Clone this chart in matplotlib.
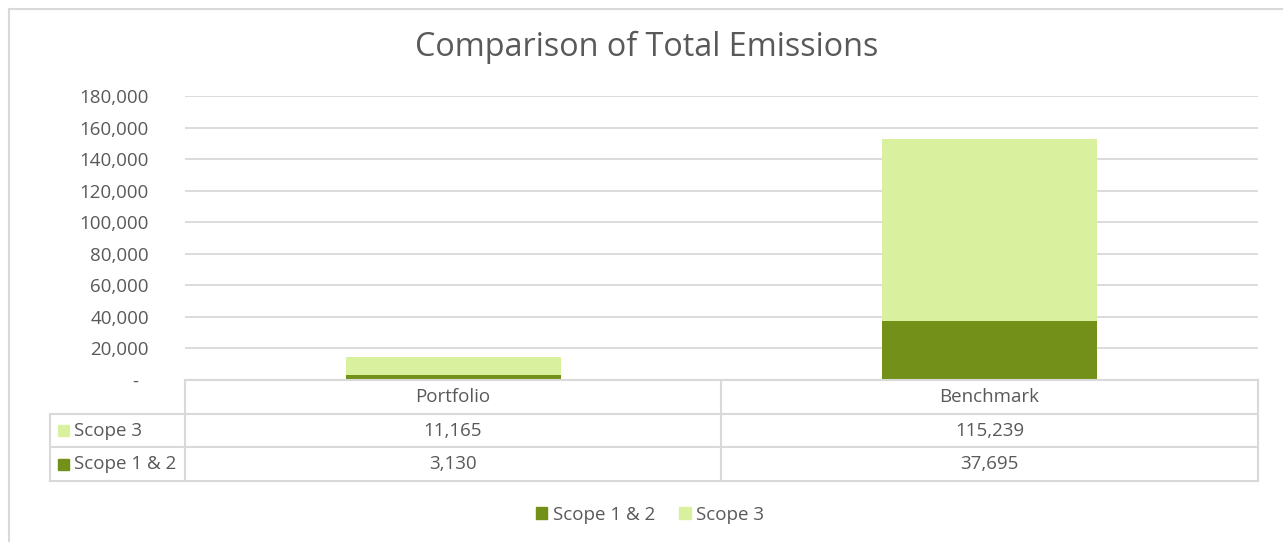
import numpy as np
import matplotlib
matplotlib.use("Agg")
import matplotlib.pyplot as plt
from matplotlib.ticker import FuncFormatter
from matplotlib.patches import Rectangle
from matplotlib.lines import Line2D

# data
categories = ["Portfolio", "Benchmark"]
series_names = ["Scope 1 & 2", "Scope 3"]
scope12 = [3130, 37695]
scope3 = [11165, 115239]
y_ticks = [0, 20000, 40000, 60000, 80000, 100000, 120000, 140000, 160000, 180000]

dark = "#739118"
light = "#D9F09E"
grid = "#D9D9D9"
txt = "#595959"
fs = 13.5

plt.rcParams['font.family'] = ['Open Sans', 'DejaVu Sans']

W, H = 1283, 542
fig = plt.figure(figsize=(W / 100, H / 100), dpi=100)

def box(l, t, r, b):
    # pixel box -> figure fraction
    return [l / W, 1 - b / H, (r - l) / W, (b - t) / H]

# outer chart border (runs off the right and bottom of the picture)
fig.add_artist(Line2D([9 / W, 1], [1 - 9 / H, 1 - 9 / H], color=grid, lw=1.5))
fig.add_artist(Line2D([9 / W, 9 / W], [0, 1 - 9 / H], color=grid, lw=1.5))

fig.text(647 / W, 1 - 47 / H, "Comparison of Total Emissions", ha="center", va="center",
         fontsize=23.3, color=txt)

ax = fig.add_axes(box(185, 96, 1258, 380))
x = np.arange(len(categories))
ax.bar(x, scope12, width=0.4, color=dark, zorder=3)
ax.bar(x, scope3, width=0.4, bottom=scope12, color=light, zorder=3)
ax.set_xlim(-0.5, len(categories) - 0.5)
ax.set_ylim(0, 180000)
ax.set_yticks(y_ticks)
# accounting style: zero shows as a dash
ax.yaxis.set_major_formatter(FuncFormatter(lambda v, p: "-  " if v == 0 else f"{v:,.0f}"))
ax.tick_params(axis="y", length=0, pad=26, labelsize=fs, labelcolor=txt)
ax.set_xticks([])
ax.grid(axis="y", color=grid, lw=1.3, zorder=0)
for s in ax.spines.values():
    s.set_visible(False)

# data table under the plot
tab = fig.add_axes(box(50, 380, 1258, 481))
tab.set_xlim(50, 1258)
tab.set_ylim(481, 380)
tab.axis("off")
col_edges = [50, 185, 721, 1258]
row_edges = [380, 413.7, 447.3, 481]
lk = dict(color=grid, lw=1.5, clip_on=False)
tab.plot([185, 1258], [380, 380], **lk)
for yy in row_edges[1:]:
    tab.plot([50, 1258], [yy, yy], **lk)
tab.plot([50, 50], [row_edges[1], 481], **lk)
for xx in col_edges[1:]:
    tab.plot([xx, xx], [380, 481], **lk)

for i, c in enumerate(categories):
    cx = (col_edges[i + 1] + col_edges[i + 2]) / 2
    tab.text(cx, (row_edges[0] + row_edges[1]) / 2, c, ha="center", va="center",
             fontsize=fs, color=txt)

rows = [("Scope 3", scope3, light), ("Scope 1 & 2", scope12, dark)]
for r, (name, vals, col) in enumerate(rows):
    cy = (row_edges[r + 1] + row_edges[r + 2]) / 2
    tab.add_patch(Rectangle((58, cy - 5.5), 11, 11, color=col, clip_on=False))
    tab.text(74, cy, name, ha="left", va="center", fontsize=fs, color=txt)
    for i, v in enumerate(vals):
        cx = (col_edges[i + 1] + col_edges[i + 2]) / 2
        tab.text(cx, cy, f"{v:,}", ha="center", va="center", fontsize=fs, color=txt)

# legend
handles = [Rectangle((0, 0), 1, 1, color=dark), Rectangle((0, 0), 1, 1, color=light)]
fig.legend(handles, series_names, loc="center", bbox_to_anchor=(650 / W, 1 - 515 / H),
           ncol=2, frameon=False, fontsize=fs, labelcolor=txt, handlelength=0.6,
           handleheight=0.6, handletextpad=0.3, columnspacing=1.3)

fig.savefig("out.png", dpi=100, facecolor="white")
